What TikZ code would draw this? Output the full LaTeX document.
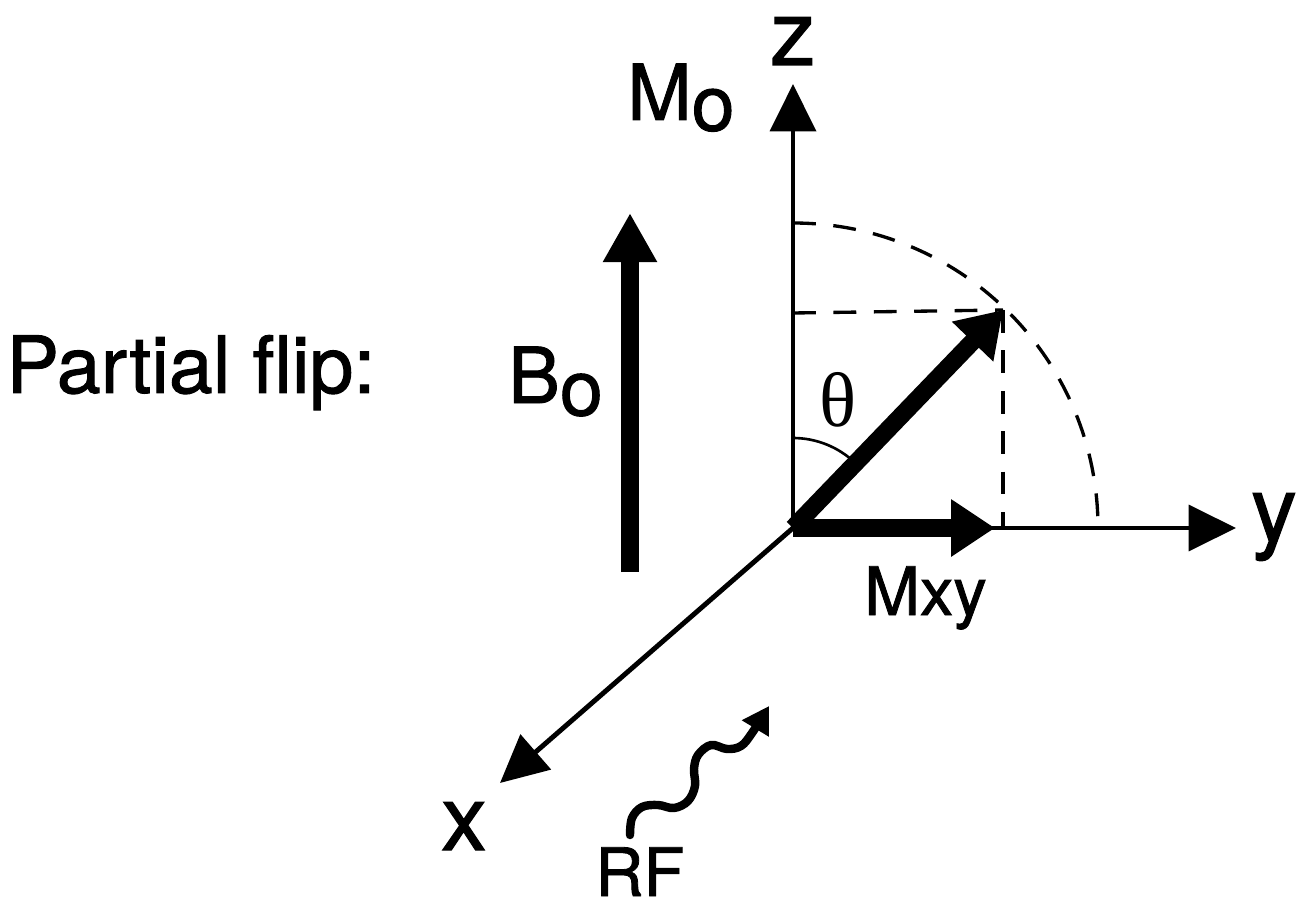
\documentclass[tikz,border=0pt]{standalone}
\usepackage{fontspec}
\setmainfont{TeX Gyre Heros}[FakeBold=1.2]
\newfontfamily\grserif{Liberation Serif}
\usetikzlibrary{arrows.meta}
\begin{document}
\begin{tikzpicture}[x=0.02cm,y=-0.02cm,
  axis/.style={line width=2.8pt,-{Triangle[length=27pt,width=26pt]}},
  vec/.style={line width=10pt,-{Triangle[length=25pt,width=31pt]}},
  guide/.style={line width=1.9pt,dash pattern=on 13pt off 10pt},
  lbl/.style={inner sep=0pt,font=\fontsize{44}{48}\selectfont},
  axlbl/.style={inner sep=0pt,font=\fontsize{52}{56}\selectfont},
  smlbl/.style={inner sep=0pt,font=\fontsize{38}{42}\selectfont}]
\useasboundingbox (0,0) rectangle (1297,908);
% key points
\coordinate (O) at (793,528);
\coordinate (ztip) at (793,84);
\coordinate (ytip) at (1236,528);
\coordinate (xtip) at (500,783);
\coordinate (Mtip) at (1003,310);
\coordinate (Mxytip) at (995,528);
\coordinate (Mz) at (793,313);
\coordinate (Mfoot) at (1003,528);
\coordinate (Bbot) at (630,572);
\coordinate (Btip) at (630,213);
% dashed guides
\draw[guide] (Mz) -- (Mtip);
\draw[guide] (Mtip) -- (Mfoot);
\draw[guide] (O) ++(0,-305) arc[start angle=-90,end angle=0,radius=305];
% axes
\draw[axis] (O) -- (ztip);
\draw[axis] (O) -- (ytip);
\draw[axis] (O) -- (xtip);
% theta arc
\draw[line width=1.5pt] (O) ++(0,-90) arc[start angle=-90,end angle=-46,radius=90];
% vectors
\draw[vec] (O) -- (Mxytip);
\draw[vec] (O) -- (Mtip);
\draw[line width=10.5pt,-{Triangle[length=28pt,width=29pt]}] (Bbot) -- (Btip);
% RF wave
\coordinate (rfs) at (630,835);
\coordinate (rft) at (769,706);
\draw[line width=4.8pt,line cap=round,-{Triangle[length=15pt,width=17pt]}]
  plot[smooth,tension=0.6] coordinates{(rfs) (632,818) (642,807) (658,805) (674,808) (688,801) (695,786) (694,769) (698,755) (711,745) (727,749) (741,746) (752,733) (rft)};
% labels
\node[inner sep=0pt,font=\fontsize{45}{50}\selectfont,anchor=base west] (pf) at (6,393) {Partial flip:};
\node[axlbl,anchor=base] (zl) at (793,65) {z};
\node[axlbl,anchor=base] (xl) at (464,850) {x};
\node[axlbl,anchor=base] (yl) at (1274,541) {y};
\node[lbl,anchor=base east] (mol) at (735,120) {M\raisebox{-6pt}{o}};
\node[lbl,anchor=base west] (bol) at (508,403) {B\raisebox{-7pt}{o}};
\node[smlbl,anchor=base west] (mxyl) at (864,615) {Mxy};
\node[smlbl,anchor=base west] (rfl) at (595,896) {RF};
\node[inner sep=0pt,font=\grserif\fontsize{44}{48}\selectfont] (th) at (838,400) {θ};
\end{tikzpicture}
\end{document}
